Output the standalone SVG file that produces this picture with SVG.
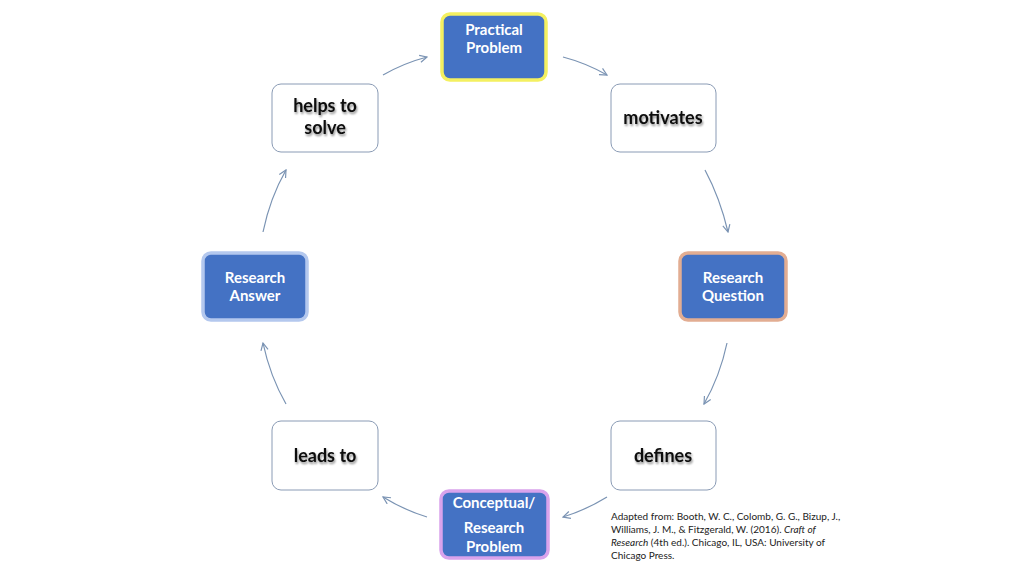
<svg xmlns="http://www.w3.org/2000/svg" width="1024" height="576" viewBox="0 0 1024 576">
<defs>
<marker id="ah" viewBox="0 0 10 10" refX="9" refY="5" markerWidth="9" markerHeight="9" orient="auto" markerUnits="userSpaceOnUse">
<path d="M1,1 L9,5 L1,9" fill="none" stroke="#7a93b3" stroke-width="1.3"/>
</marker>
<filter id="ts" x="-10%" y="-10%" width="130%" height="140%">
<feGaussianBlur in="SourceAlpha" stdDeviation="0.8"/>
<feOffset dx="1" dy="1.5" result="b"/>
<feComponentTransfer><feFuncA type="linear" slope="0.45"/></feComponentTransfer>
<feMerge><feMergeNode/><feMergeNode in="SourceGraphic"/></feMerge>
</filter>
</defs>
<style>
.w{fill:#ffffff;stroke:#8a9bb5;stroke-width:1}
.b{fill:#4472c4;stroke-width:3.5}
.bt{font-family:Lato,"Open Sans","Liberation Sans",sans-serif;font-weight:bold;font-size:15px;fill:#ffffff;text-anchor:middle}
.wt{font-family:Lato,"Open Sans","Liberation Sans",sans-serif;font-weight:bold;font-size:18px;fill:#111111;text-anchor:middle}
.c{fill:none;stroke:#7a93b3;stroke-width:1.2;marker-end:url(#ah)}
.cit{font-family:Lato,"Open Sans","Liberation Sans",sans-serif;font-size:10px;fill:#222222}
</style>
<rect width="1024" height="576" fill="#ffffff"/>
<g id="connectors">
<path class="c" d="M383,75 Q404,63 427,57"/>
<path class="c" d="M563,57 Q586,63 607,75"/>
<path class="c" d="M705,170 Q720,198 728,232"/>
<path class="c" d="M727,343 Q720,376 704,404"/>
<path class="c" d="M607,497 Q586,510 563,517"/>
<path class="c" d="M427,517 Q404,510 383,497"/>
<path class="c" d="M286,404 Q270,376 263,343"/>
<path class="c" d="M263,232 Q270,198 286,170"/>
</g>
<g id="practical-problem">
<rect class="b" x="442" y="14" width="104" height="66" rx="8" stroke="#f4f060"/>
<text class="bt" x="494" y="35">Practical</text>
<text class="bt" x="494" y="53">Problem</text>
</g>
<g id="motivates">
<rect class="w" x="611" y="84" width="105" height="68" rx="9"/>
<text class="wt" x="663" y="124" filter="url(#ts)">motivates</text>
</g>
<g id="research-question">
<rect class="b" x="680" y="253" width="106" height="67" rx="8" stroke="#e2ad92"/>
<text class="bt" x="733" y="283">Research</text>
<text class="bt" x="733" y="301">Question</text>
</g>
<g id="defines">
<rect class="w" x="611" y="421" width="105" height="69" rx="9"/>
<text class="wt" x="663" y="462" filter="url(#ts)">defines</text>
</g>
<g id="conceptual-research-problem">
<rect class="b" x="441" y="491" width="107" height="67" rx="8" stroke="#d9a3ec"/>
<text class="bt" x="494" y="508">Conceptual/</text>
<text class="bt" x="494" y="533">Research</text>
<text class="bt" x="494" y="552">Problem</text>
</g>
<g id="leads-to">
<rect class="w" x="272" y="421" width="106" height="69" rx="9"/>
<text class="wt" x="325" y="462" filter="url(#ts)">leads to</text>
</g>
<g id="research-answer">
<rect class="b" x="203" y="253" width="104" height="67" rx="8" stroke="#b4c8ee"/>
<text class="bt" x="255" y="283">Research</text>
<text class="bt" x="255" y="301">Answer</text>
</g>
<g id="helps-to-solve">
<rect class="w" x="272" y="84" width="106" height="68" rx="9"/>
<text class="wt" x="325" y="112" filter="url(#ts)">helps to</text>
<text class="wt" x="325" y="134" filter="url(#ts)">solve</text>
</g>
<g id="citation">
<text class="cit" x="611" y="520">Adapted from: Booth, W. C., Colomb, G. G., Bizup, J.,</text>
<text class="cit" x="611" y="533">Williams, J. M., &amp; Fitzgerald, W. (2016). <tspan font-style="italic">Craft of</tspan></text>
<text class="cit" x="611" y="546"><tspan font-style="italic">Research</tspan>  (4th ed.). Chicago, IL, USA:  University of</text>
<text class="cit" x="611" y="559">Chicago Press.</text>
</g>
</svg>
